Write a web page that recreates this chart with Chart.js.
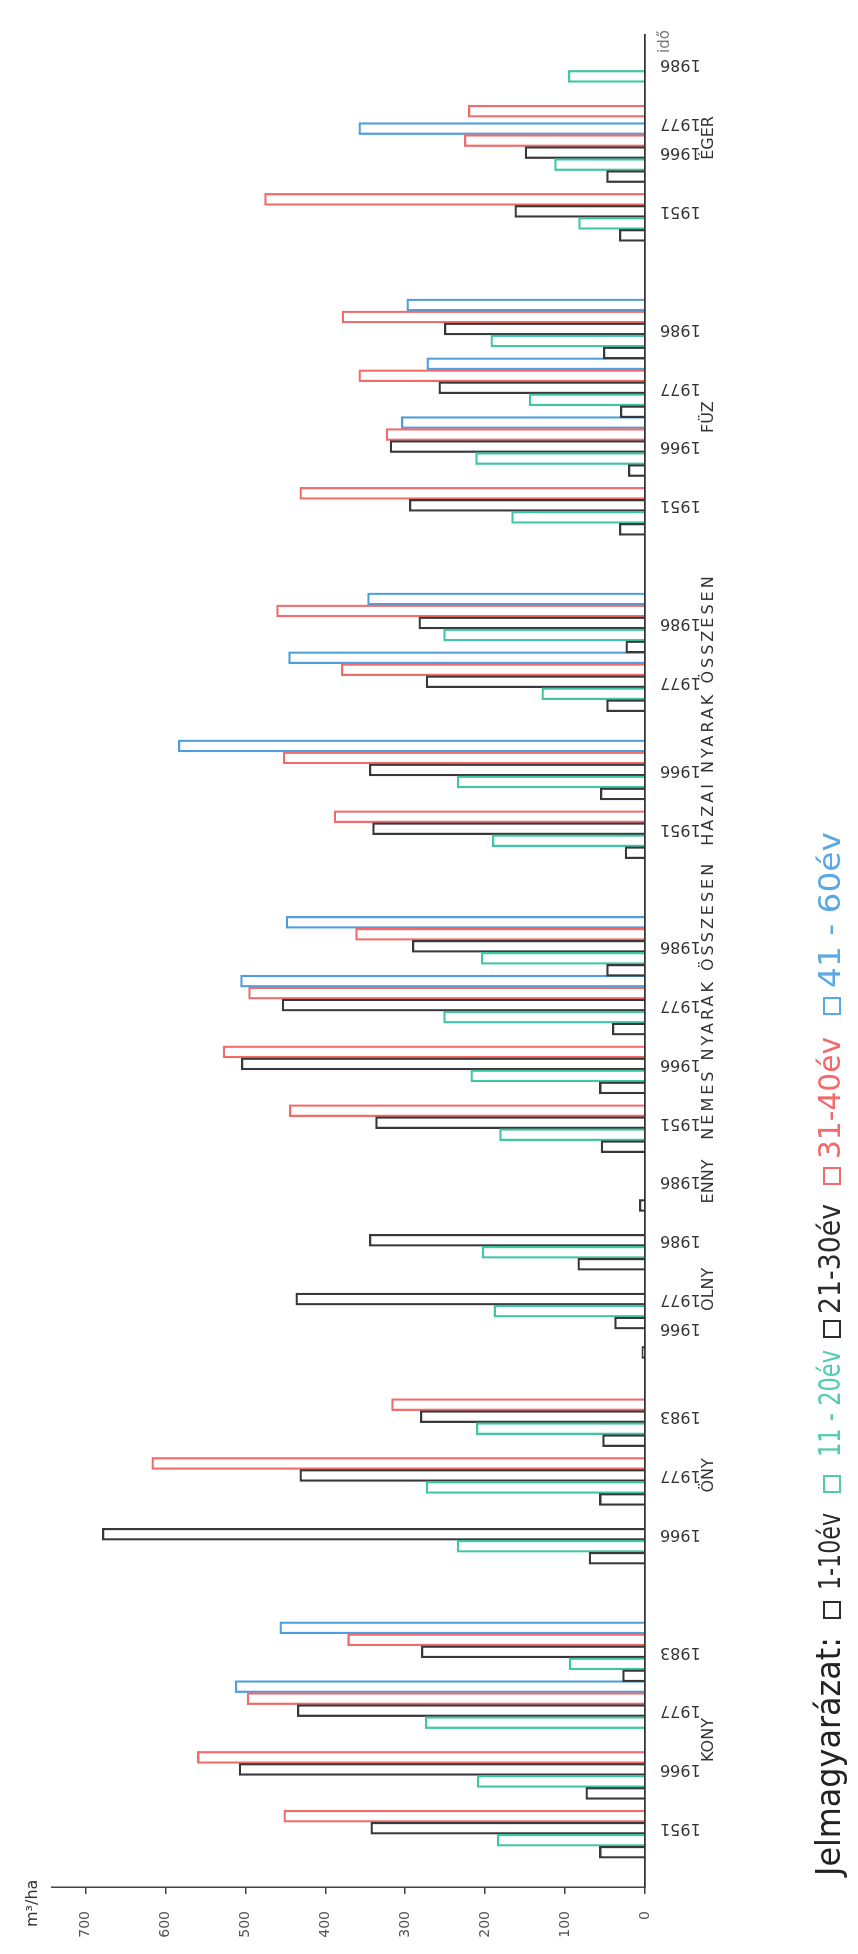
<!DOCTYPE html>
<html>
<head>
<meta charset="utf-8">
<script src="https://cdn.jsdelivr.net/npm/chart.js@4.4.1/dist/chart.umd.min.js"></script>
<style>
  html, body { margin: 0; padding: 0; background: #fff; }
  body { width: 858px; height: 1954px; overflow: hidden; position: relative; }
  /* the chart is drawn upright and then turned a quarter turn, like the scanned sheet */
  #frame { position: absolute; left: 0; top: 0; width: 1954px; height: 858px;
           transform-origin: 0 0; transform: translateY(1954px) rotate(-90deg); }
</style>
</head>
<body>
<div id="frame"><canvas id="chart" width="1954" height="858"></canvas></div>
<script>
const groups = ['KONY', 'ÖNY', 'OLNY', 'ENNY', 'NEMES NYARAK ÖSSZESEN', 'HAZAI NYARAK ÖSSZESEN', 'FÜZ', 'ÉGER'];
const groupSizes = [4, 3, 3, 1, 4, 4, 4, 4];

// category slots, left to right in the upright drawing ('' = empty slot)
const yearSlots = [
  '', '',
  '1951', '', '1966', '', '1977', '', '1983', '', '', '',        // KONY
  '1966', '', '1977', '', '1983', '', '',                        // ÖNY
  '1966', '1977', '', '1986', '',                                // OLNY
  '1986', '',                                                    // ENNY
  '1951', '', '1966', '', '1977', '', '1986', '', '', '',        // NEMES
  '1951', '', '1966', '', '', '1977', '', '1986', '', '', '',    // HAZAI
  '1951', '', '1966', '', '1977', '', '1986', '', '', '',        // FÜZ
  '1951', '', '1966', '1977', '', '1986',                        // ÉGER
  ''
];

// m3/ha per age class, one value per year bar group (same order as the years above)
const age1to10  = [57, 74, null, 28,   70, 57, 53,   4, 38, 84,   7,   55, 57, 41, 48,   25, 56, 48, 24,   32, 21, 31, 52,   32, 48, null, null];
const age11to20 = [185, 210, 275, 95,  235, 274, 211,  null, 189, 204,  null,  182, 218, 252, 205,  191, 235, 129, 252,  167, 212, 145, 193,  83, 113, null, 96];
const age21to30 = [343, 508, 435, 280,  679, 432, 281,  null, 437, 345,  null,  337, 505, 454, 291,  341, 345, 274, 283,  295, 319, 258, 251,  163, 150, null, null];
const age31to40 = [452, 560, 498, 372,  null, 617, 317,  null, null, null,  null,  445, 528, 496, 362,  389, 453, 380, 461,  432, 324, 358, 379,  476, 226, 221, null];
const age41to60 = [null, null, 513, 457,  null, null, null,  null, null, null,  null,  null, null, 506, 449,  null, 584, 446, 347,  null, 305, 273, 298,  null, 358, null, null];

const valueTicks = [0, 100, 200, 300, 400, 500, 600, 700];

const GRAY = '#383838', TEAL = '#3fc6a5', RED = '#f26b6b', BLUE = '#4d9edb';
const FONT = '"DejaVu Sans", sans-serif';

const series = [
  { label: '1-10év', key: '1-10év', data: age1to10, color: GRAY, text: '#2c2c2c' },
  { label: '11-20év', key: '11 - 20év', data: age11to20, color: TEAL, text: '#52ccb1' },
  { label: '21-30év', key: '21-30év', data: age21to30, color: GRAY, text: '#2c2c2c' },
  { label: '31-40év', key: '31-40év', data: age31to40, color: RED, text: '#f36a6a' },
  { label: '41-60év', key: '41 - 60év', data: age41to60, color: BLUE, text: '#5aa9e2' }
];

const clusterSlots = [];
yearSlots.forEach((y, i) => { if (y) clusterSlots.push(i); });

function spread(values) {
  const out = yearSlots.map(() => null);
  values.forEach((v, k) => { out[clusterSlots[k]] = v; });
  return out;
}

// squeeze or stretch a text run to the width it has on the sheet
function fitText(ctx, text, x, y, width) {
  const w = ctx.measureText(text).width;
  ctx.save();
  ctx.translate(x, y);
  ctx.scale(width / w, 1);
  ctx.fillText(text, 0, 0);
  ctx.restore();
}

// group names, axis captions and the key are plain text on the canvas
const captions = {
  id: 'captions',
  afterDraw(chart) {
    const { ctx, scales: { x } } = chart;
    ctx.save();

    ctx.fillStyle = '#333';
    ctx.font = '16px ' + FONT;
    ctx.textBaseline = 'middle';
    let k = 0;
    groups.forEach((name, gi) => {
      const px = [];
      for (let j = 0; j < groupSizes[gi]; j++) px.push(x.getPixelForValue(clusterSlots[k++]));
      if (name.includes(' ')) {
        ctx.textAlign = 'left';
        ctx.letterSpacing = '3px';
        ctx.fillText(name, px[0] - 17, 709);
      } else {
        ctx.textAlign = 'center';
        ctx.letterSpacing = '0px';
        ctx.fillText(name, px.reduce((a, b) => a + b, 0) / px.length, 709);
      }
    });
    ctx.letterSpacing = '0px';

    ctx.textAlign = 'left';
    ctx.textBaseline = 'alphabetic';
    ctx.fillStyle = '#777';
    ctx.font = '15px ' + FONT;
    ctx.fillText('idő', 1901, 669);

    ctx.fillStyle = '#333';
    ctx.font = '16px ' + FONT;
    ctx.fillText('m³/ha', 27, 37);

    // key
    ctx.fillStyle = '#222';
    ctx.font = '34px ' + FONT;
    fitText(ctx, 'Jelmagyarázat:', 78, 840, 239);
    const keySpots = [
      { box: 336, text: 364, width: 77 },
      { box: 462, text: 497, width: 107 },
      { box: 617, text: 640, width: 110 },
      { box: 770, text: 795, width: 122 },
      { box: 940, text: 966, width: 156 }
    ];
    ctx.font = '30px ' + FONT;
    series.forEach((s, i) => {
      const spot = keySpots[i];
      ctx.strokeStyle = s.text;
      ctx.lineWidth = 2;
      ctx.strokeRect(spot.box, 824, 16, 16);
      ctx.fillStyle = s.text;
      fitText(ctx, s.key, spot.text, 840, spot.width);
    });
    ctx.restore();
  }
};

new Chart(document.getElementById('chart'), {
  type: 'bar',
  data: {
    labels: yearSlots,
    datasets: series.map(s => ({
      label: s.label,
      data: spread(s.data),
      borderColor: s.color,
      backgroundColor: 'rgba(255,255,255,0)',
      borderWidth: 1.6,
      barThickness: 12
    }))
  },
  options: {
    responsive: false,
    animation: false,
    layout: { padding: { top: 52, right: 35, bottom: 0, left: 0 } },
    scales: {
      x: {
        offset: false,
        border: { display: true, color: '#333', width: 1.8 },
        grid: { display: false },
        ticks: {
          autoSkip: false, minRotation: 90, maxRotation: 90, padding: 7,
          color: '#333', font: { family: 'DejaVu Sans', size: 16 }
        },
        afterFit: s => { s.height = 213; }
      },
      y: {
        min: 0,
        max: 742,
        border: { display: true, color: '#444', width: 1.5 },
        grid: { drawOnChartArea: false, drawTicks: true, tickLength: 7, color: '#444', lineWidth: 1.5 },
        ticks: {
          stepSize: 100, padding: 17, color: '#555',
          font: { family: 'DejaVu Sans', size: 14 },
          callback: v => valueTicks.includes(v) ? String(v) : null
        },
        afterFit: s => { s.width = 67; }
      }
    },
    plugins: { legend: { display: false }, tooltip: { enabled: false } }
  },
  plugins: [captions]
});
</script>
</body>
</html>
